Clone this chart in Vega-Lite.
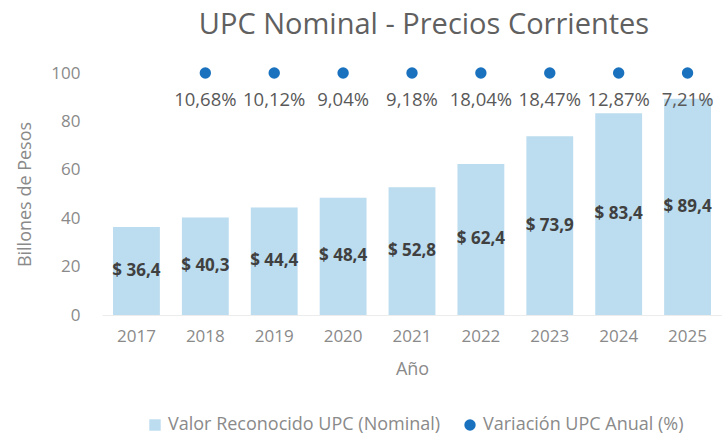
{
  "$schema": "https://vega.github.io/schema/vega-lite/v6.json",
  "width": 620,
  "height": 242,
  "autosize": {"type": "none"},
  "padding": {"left": 102, "top": 73, "right": 0, "bottom": 119},
  "background": "white",
  "config": {
    "view": {"stroke": null},
    "font": "Open Sans",
    "axis": {"grid": false, "ticks": false, "labelFont": "Open Sans", "titleFont": "Open Sans", "labelColor": "#8a8a8a", "titleColor": "#8a8a8a", "labelFontSize": 17, "titleFontSize": 18, "titleFontWeight": "normal"}
  },
  "title": {"text": "UPC Nominal - Precios Corrientes", "fontSize": 29, "font": "Open Sans", "fontWeight": "normal", "color": "#606060", "anchor": "middle", "offset": 24, "dx": 12},
  "data": {"values": [
    {"anio": "2017", "valor": 36.4, "variacion": null},
    {"anio": "2018", "valor": 40.3, "variacion": 10.68},
    {"anio": "2019", "valor": 44.4, "variacion": 10.12},
    {"anio": "2020", "valor": 48.4, "variacion": 9.04},
    {"anio": "2021", "valor": 52.8, "variacion": 9.18},
    {"anio": "2022", "valor": 62.4, "variacion": 18.04},
    {"anio": "2023", "valor": 73.9, "variacion": 18.47},
    {"anio": "2024", "valor": 83.4, "variacion": 12.87},
    {"anio": "2025", "valor": 89.4, "variacion": 7.21}
  ]},
  "transform": [
    {"calculate": "'$ ' + replace(format(datum.valor, '.1f'), '.', ',')", "as": "lblValor"},
    {"calculate": "datum.variacion == null ? '' : replace(format(datum.variacion, '.2f'), '.', ',') + '%'", "as": "lblVar"},
    {"calculate": "datum.valor / 2", "as": "mid"},
    {"calculate": "'Valor Reconocido UPC (Nominal)'", "as": "serieBar"},
    {"calculate": "'Variación UPC Anual (%)'", "as": "serieDot"}
  ],
  "encoding": {
    "x": {"field": "anio", "type": "ordinal", "scale": {"paddingInner": 0.32, "paddingOuter": 0.16},
      "axis": {"title": "Año", "labelAngle": 0, "labelPadding": 13, "titlePadding": 16, "domain": true, "domainColor": "#ececec"}}
  },
  "layer": [
    {
      "mark": {"type": "bar", "color": "#bcdcef"},
      "encoding": {
        "y": {"field": "valor", "type": "quantitative", "scale": {"domain": [0, 100]},
          "axis": {"title": "Billones de Pesos", "values": [0, 20, 40, 60, 80, 100], "labelPadding": 22, "titlePadding": 16, "domain": false}},
        "color": {"field": "serieBar", "type": "nominal",
          "scale": {"domain": ["Valor Reconocido UPC (Nominal)", "Variación UPC Anual (%)"], "range": ["#bcdcef", "#1a72bf"]},
          "legend": {"title": null, "orient": "none", "legendX": 44, "legendY": 343, "direction": "horizontal",
            "labelFontSize": 18, "labelColor": "#8a8a8a", "labelFont": "Open Sans", "labelLimit": 0, "symbolSize": 130, "columnPadding": 20, "labelOffset": 4,
            "encode": {"symbols": {"update": {"shape": {"signal": "datum.value == 'Variación UPC Anual (%)' ? 'circle' : 'square'"}, "strokeWidth": {"value": 0}}}}}}
      }
    },
    {
      "mark": {"type": "text", "fontSize": 17, "fontWeight": "bold", "color": "#404040", "font": "Open Sans"},
      "encoding": {
        "y": {"field": "mid", "type": "quantitative", "scale": {"domain": [0, 100]},
          "axis": {"title": "Billones de Pesos", "values": [0, 20, 40, 60, 80, 100], "labelPadding": 22, "titlePadding": 16, "domain": false}},
        "text": {"field": "lblValor"}
      }
    },
    {
      "transform": [{"filter": "datum.variacion != null"}],
      "mark": {"type": "point", "filled": true, "size": 130, "opacity": 1, "shape": "circle"},
      "encoding": {
        "y": {"datum": 100, "type": "quantitative"},
        "color": {"field": "serieDot", "type": "nominal"}
      }
    },
    {
      "transform": [{"filter": "datum.variacion != null"}],
      "mark": {"type": "text", "fontSize": 18.5, "color": "#595959", "dy": 27, "font": "Open Sans"},
      "encoding": {
        "y": {"datum": 100, "type": "quantitative"},
        "text": {"field": "lblVar"}
      }
    }
  ]
}
